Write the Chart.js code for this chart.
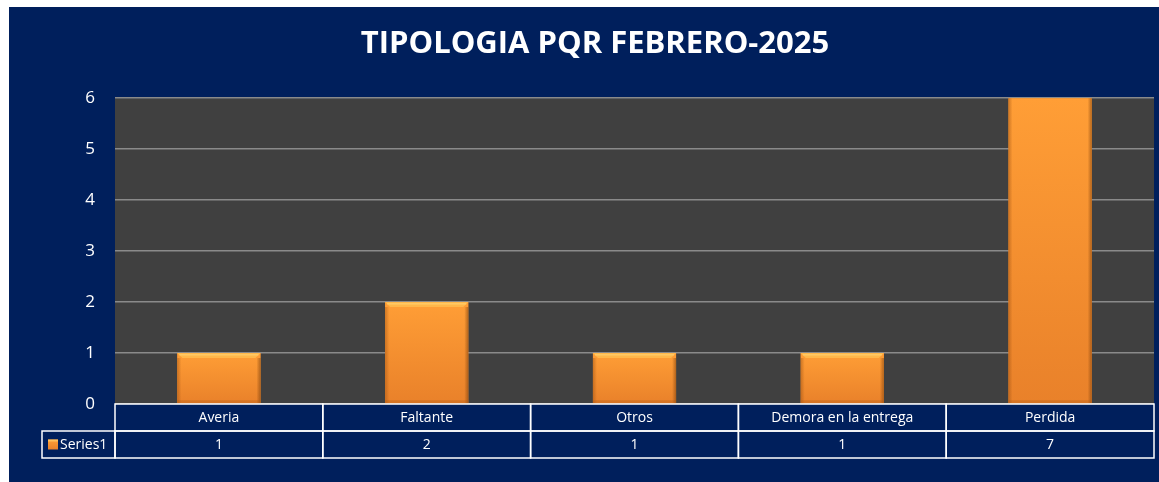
<!DOCTYPE html>
<html>
<head>
<meta charset="utf-8">
<script src="https://cdn.jsdelivr.net/npm/chart.js@4/dist/chart.umd.min.js"></script>
<style>
    html, body { margin: 0; padding: 0; background: #ffffff; }
    #wrap { position: relative; width: 1159px; height: 482px; }
</style>
</head>
<body>
<div id="wrap"><canvas id="pqr-chart" width="1159" height="482"></canvas></div>
<script>
const chartTitle = 'TIPOLOGIA PQR FEBRERO-2025';
const categories = ['Averia', 'Faltante', 'Otros', 'Demora en la entrega', 'Perdida'];
const seriesName = 'Series1';
const seriesValues = [1, 2, 1, 1, 7];
const yTicks = [0, 1, 2, 3, 4, 5, 6];

const NAVY = '#001F5C';
const PLOT_BG = '#404040';
const FONT = '"Open Sans", "DejaVu Sans", sans-serif';

function barGradient(ctx, top, bottom) {
    const g = ctx.createLinearGradient(0, top, 0, bottom);
    g.addColorStop(0, '#FF9E36');
    g.addColorStop(1, '#E9812A');
    return g;
}

// navy frame + dark plot area
const backgroundPlugin = {
    id: 'background',
    beforeDraw(chart) {
        const { ctx, chartArea } = chart;
        ctx.save();
        ctx.fillStyle = '#ffffff';
        ctx.fillRect(0, 0, chart.width, chart.height);
        ctx.fillStyle = NAVY;
        ctx.fillRect(9, 7, chart.width - 9, chart.height - 7);
        ctx.fillStyle = PLOT_BG;
        ctx.fillRect(chartArea.left, chartArea.top, chartArea.right - chartArea.left, chartArea.bottom - chartArea.top);
        ctx.restore();
    }
};

// per-bar gradient, soft bevel on top and darker sides
const bevelPlugin = {
    id: 'bevel',
    afterDatasetsDraw(chart) {
        const { ctx, chartArea } = chart;
        const meta = chart.getDatasetMeta(0);
        ctx.save();
        ctx.beginPath();
        ctx.rect(chartArea.left, chartArea.top, chartArea.right - chartArea.left, chartArea.bottom - chartArea.top);
        ctx.clip();
        meta.data.forEach(bar => {
            const left = bar.x - bar.width / 2;
            const right = bar.x + bar.width / 2;
            const top = bar.y;
            const bottom = bar.base;
            const b = 5;
            ctx.fillStyle = barGradient(ctx, Math.max(top, chartArea.top), bottom);
            ctx.fillRect(left, top, right - left, bottom - top);
            // top bevel
            ctx.fillStyle = 'rgba(255, 190, 80, 0.8)';
            ctx.beginPath();
            ctx.moveTo(left, top);
            ctx.lineTo(right, top);
            ctx.lineTo(right - b, top + b);
            ctx.lineTo(left + b, top + b);
            ctx.closePath();
            ctx.fill();
            ctx.fillStyle = 'rgba(255, 215, 120, 0.6)';
            ctx.fillRect(left + 2, top + 1, right - left - 4, 1.5);
            // side shading
            const gl = ctx.createLinearGradient(left, 0, left + 4, 0);
            gl.addColorStop(0, 'rgba(150, 75, 15, 0.45)');
            gl.addColorStop(1, 'rgba(150, 75, 15, 0)');
            ctx.fillStyle = gl;
            ctx.fillRect(left, top + b, 4, bottom - top - b);
            const gr = ctx.createLinearGradient(right - 4, 0, right, 0);
            gr.addColorStop(0, 'rgba(120, 60, 10, 0)');
            gr.addColorStop(1, 'rgba(120, 60, 10, 0.55)');
            ctx.fillStyle = gr;
            ctx.fillRect(right - 4, top + b, 4, bottom - top - b);
            // bottom edge
            ctx.fillStyle = 'rgba(170, 85, 20, 0.3)';
            ctx.fillRect(left, bottom - 3, right - left, 3);
        });
        ctx.restore();
    }
};

// data table under the plot (categories + values)
const dataTablePlugin = {
    id: 'dataTable',
    afterDraw(chart) {
        const { ctx, chartArea } = chart;
        const xScale = chart.scales.x;
        const rowH = 27;
        const colW = (chartArea.right - chartArea.left) / categories.length;
        const legendLeft = 42;
        const y0 = chartArea.bottom;

        ctx.save();
        ctx.fillStyle = NAVY;
        ctx.fillRect(chartArea.left, y0, chartArea.right - chartArea.left, rowH);
        ctx.fillRect(legendLeft, y0 + rowH, chartArea.right - legendLeft, rowH);

        ctx.strokeStyle = '#ffffff';
        ctx.lineWidth = 1.5;
        ctx.font = '14px ' + FONT;
        ctx.textAlign = 'center';
        ctx.textBaseline = 'middle';

        categories.forEach((cat, i) => {
            const left = chartArea.left + i * colW;
            const cx = xScale.getPixelForValue(i);
            ctx.strokeRect(left, y0, colW, rowH);
            ctx.strokeRect(left, y0 + rowH, colW, rowH);
            ctx.fillStyle = '#ffffff';
            ctx.fillText(cat, cx, y0 + rowH / 2 + 1);
            ctx.fillText(String(seriesValues[i]), cx, y0 + rowH * 1.5 + 1);
        });

        // legend key cell
        ctx.strokeRect(legendLeft, y0 + rowH, chartArea.left - legendLeft, rowH);
        const ky = y0 + rowH * 1.5 - 5;
        ctx.fillStyle = barGradient(ctx, ky, ky + 10);
        ctx.fillRect(legendLeft + 6, ky, 10, 10);
        ctx.fillStyle = 'rgba(255, 200, 100, 0.8)';
        ctx.fillRect(legendLeft + 6, ky, 10, 2);
        ctx.fillStyle = '#ffffff';
        ctx.textAlign = 'left';
        ctx.fillText(seriesName, legendLeft + 18, y0 + rowH * 1.5 + 1);
        ctx.restore();
    }
};

const ctx = document.getElementById('pqr-chart').getContext('2d');
new Chart(ctx, {
    type: 'bar',
    data: {
        labels: categories,
        datasets: [{
            label: seriesName,
            data: seriesValues,
            backgroundColor: '#F58C2D',
            borderWidth: 0,
            barPercentage: 0.4,
            categoryPercentage: 1.0
        }]
    },
    options: {
        responsive: false,
        animation: false,
        layout: { padding: { left: 36, right: 5, top: 0, bottom: 78 } },
        plugins: {
            legend: { display: false },
            tooltip: { enabled: false },
            title: {
                display: true,
                text: chartTitle,
                color: '#ffffff',
                font: { family: FONT, size: 31, weight: 'bold', lineHeight: 1.2 },
                padding: { top: 26, bottom: 35 }
            }
        },
        scales: {
            x: { display: false },
            y: {
                min: 0,
                max: 6,
                afterFit: s => { s.width = 79; },
                afterBuildTicks: s => { s.ticks = yTicks.map(v => ({ value: v })); },
                ticks: {
                    color: '#ffffff',
                    padding: 20,
                    font: { family: FONT, size: 17 }
                },
                grid: { color: '#8a8a8a', lineWidth: 1.5, drawTicks: false },
                border: { display: false }
            }
        }
    },
    plugins: [backgroundPlugin, bevelPlugin, dataTablePlugin]
});
</script>
</body>
</html>
